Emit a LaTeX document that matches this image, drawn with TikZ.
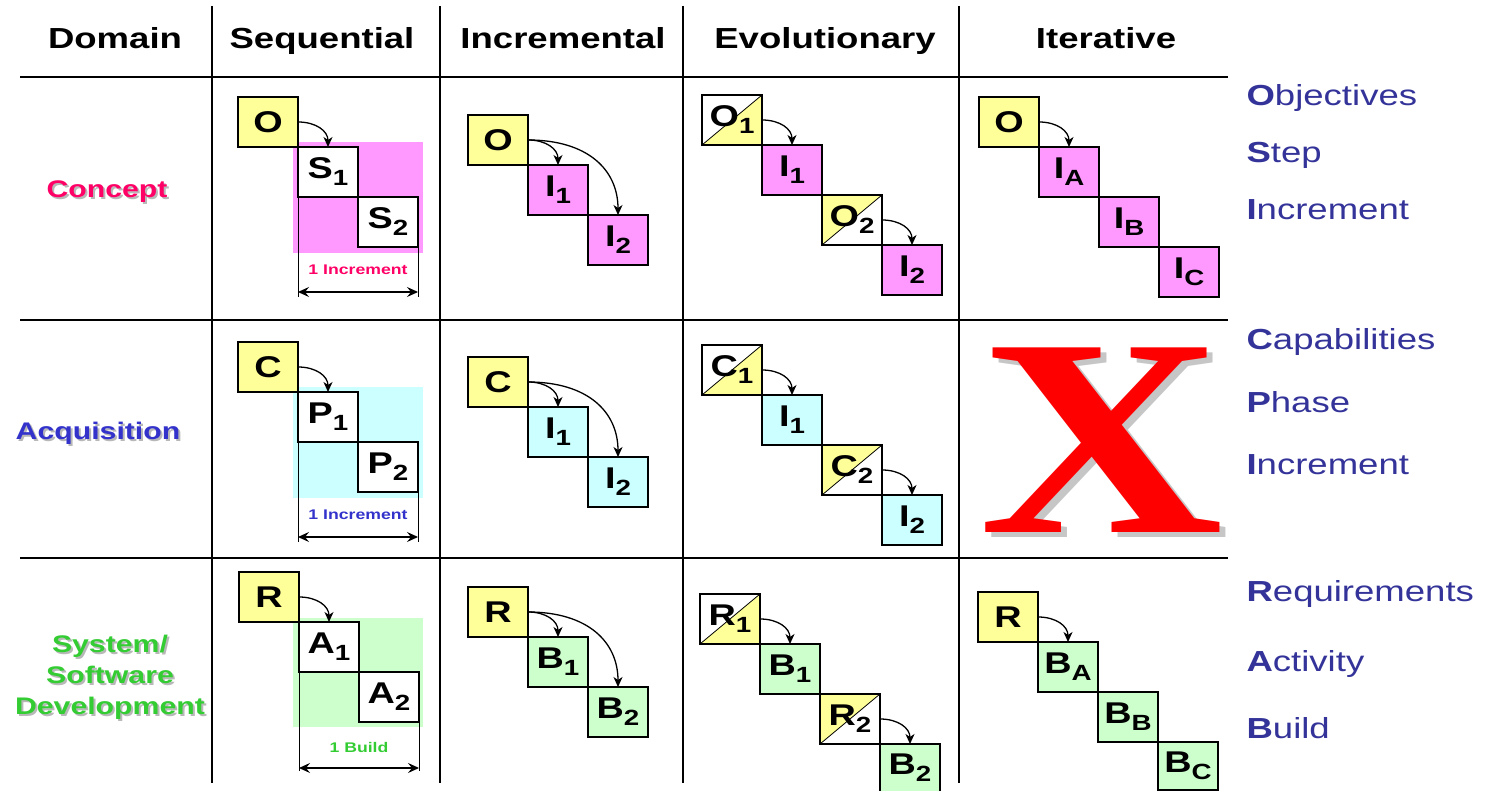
\documentclass[tikz,border=0pt]{standalone}
\usepackage{fontspec}
\setmainfont{Liberation Sans}[FakeStretch=1.26]
\newfontfamily\bigxfont{Liberation Serif}[FakeStretch=1.2]
\usetikzlibrary{arrows.meta}
\definecolor{boxyellow}{HTML}{FFFF99}
\definecolor{boxpink}{HTML}{FF99FF}
\definecolor{boxcyan}{HTML}{CCFFFF}
\definecolor{boxgreen}{HTML}{CCFFCC}
\definecolor{textblue}{HTML}{333399}
\definecolor{conceptred}{HTML}{FF0066}
\definecolor{acqblue}{HTML}{3333CC}
\definecolor{devgreen}{HTML}{33CC33}
\definecolor{shade}{HTML}{B8B8B8}
\newcommand{\subidx}[1]{\raisebox{-7pt}{\fontsize{22}{22}\selectfont #1}}

\begin{document}
\begin{tikzpicture}[x=1pt, y=1pt,
  grid/.style={line width=1.3pt},
  head/.style={font=\fontsize{29}{29}\selectfont\bfseries, anchor=base},
  side/.style={font=\fontsize{29}{29}\selectfont, text=textblue, anchor=base west},
  rowlabel/.style={font=\fontsize{24}{31}\selectfont\bfseries, align=center},
  wbox/.style={draw, fill=white, line width=1.2pt, minimum width=60pt, minimum height=50pt,
    inner sep=0pt, outer sep=0pt, font=\fontsize{30}{30}\selectfont\bfseries, anchor=north west},
  ybox/.style={wbox, fill=boxyellow, line width=2.2pt},
  pbox/.style={wbox, fill=boxpink},
  cbox/.style={wbox, fill=boxcyan},
  gbox/.style={wbox, fill=boxgreen},
  halfdown/.style={wbox, line width=2.2pt, path picture={
    \fill[boxyellow] (path picture bounding box.south west) -- (path picture bounding box.south east)
      -- (path picture bounding box.north east) -- cycle;
    \draw[line width=0.8pt] (path picture bounding box.south west) -- (path picture bounding box.north east);}},
  halfup/.style={wbox, line width=2.2pt, path picture={
    \fill[boxyellow] (path picture bounding box.south west) -- (path picture bounding box.north west)
      -- (path picture bounding box.north east) -- cycle;
    \draw[line width=0.8pt] (path picture bounding box.south west) -- (path picture bounding box.north east);}},
  flow/.style={-{Stealth[length=10pt,width=9pt,inset=3pt]}, line width=1.3pt},
  measure/.style={{Stealth[length=11pt,width=10pt,inset=4pt]}-{Stealth[length=11pt,width=10pt,inset=4pt]}, line width=1.1pt},
  note/.style={font=\fontsize{14}{14}\selectfont\bfseries}
]
\useasboundingbox (0,0) rectangle (1485,-791);

% table lines
\foreach \gy in {77,320,558}
  \draw[grid] (20,-\gy) -- (1228,-\gy);
\foreach \gx in {212,440,683,959}
  \draw[grid] (\gx,-6) -- (\gx,-783);

% headings
\node[head] (hdomain) at (115,-49) {Domain};
\node[head] (hseq) at (322,-49) {Sequential};
\node[head] (hinc) at (563,-49) {Incremental};
\node[head] (hevo) at (825,-49) {Evolutionary};
\node[head] (hiter) at (1106,-49) {Iterative};

% domains
\node[rowlabel, text=shade] at (109,-194) {Concept};
\node[rowlabel, text=conceptred] (dconcept) at (107,-192) {Concept};
\node[rowlabel, text=shade] at (100,-435) {Acquisition};
\node[rowlabel, text=acqblue] (dacq) at (98,-433) {Acquisition};
\node[rowlabel, text=shade] at (112,-679) {System/\\Software\\Development};
\node[rowlabel, text=devgreen] (ddev) at (110,-677) {System/\\Software\\Development};

% sequential
\fill[boxpink] (293,-142) rectangle (423,-253);
\node[ybox] (sO) at (238,-97) {O};
\node[wbox] (sS1) at (sO.south east) {S\subidx{1}};
\node[wbox] (sS2) at (sS1.south east) {S\subidx{2}};
\draw[flow] (sO.east) .. controls +(18,0) and +(0,16) .. (sS1.north);
\coordinate (sL1) at ([yshift=-100pt]sS1.south west);
\coordinate (sR1) at (sL1 -| sS2.south east);
\draw[line width=1pt] (sS1.south west) -- (sL1);
\draw[line width=1pt] (sS2.south east) -- (sR1);
\draw[measure] ([yshift=5pt]sL1) -- ([yshift=5pt]sR1);
\node[note, text=conceptred] (sT1) at (358,-270) {1 Increment};

\fill[boxcyan] (293,-387) rectangle (423,-498);
\node[ybox] (sC) at (238,-342) {C};
\node[wbox] (sP1) at (sC.south east) {P\subidx{1}};
\node[wbox] (sP2) at (sP1.south east) {P\subidx{2}};
\draw[flow] (sC.east) .. controls +(18,0) and +(0,16) .. (sP1.north);
\coordinate (sL2) at ([yshift=-100pt]sP1.south west);
\coordinate (sR2) at (sL2 -| sP2.south east);
\draw[line width=1pt] (sP1.south west) -- (sL2);
\draw[line width=1pt] (sP2.south east) -- (sR2);
\draw[measure] ([yshift=5pt]sL2) -- ([yshift=5pt]sR2);
\node[note, text=acqblue] (sT2) at (358,-515) {1 Increment};

\fill[boxgreen] (293,-618) rectangle (423,-727);
\node[ybox] (sR) at (239,-572) {R};
\node[wbox] (sA1) at (sR.south east) {A\subidx{1}};
\node[wbox] (sA2) at (sA1.south east) {A\subidx{2}};
\draw[flow] (sR.east) .. controls +(18,0) and +(0,16) .. (sA1.north);
\coordinate (sL3) at ([yshift=-99pt]sA1.south west);
\coordinate (sR3) at (sL3 -| sA2.south east);
\draw[line width=1pt] (sA1.south west) -- (sL3);
\draw[line width=1pt] (sA2.south east) -- (sR3);
\draw[measure] ([yshift=3pt]sL3) -- ([yshift=3pt]sR3);
\node[note, text=devgreen] (sT3) at (359,-747) {1 Build};

% incremental
\node[ybox] (iO) at (468,-115) {O};
\node[pbox] (iI1) at (iO.south east) {I\subidx{1}};
\node[pbox] (iI2) at (iI1.south east) {I\subidx{2}};
\draw[flow] (iO.east) .. controls +(18,0) and +(0,16) .. (iI1.north);
\draw[flow] (iO.east) .. controls +(60,0) and +(0,45) .. (iI2.north);

\node[ybox] (iC) at (468,-357) {C};
\node[cbox] (iI3) at (iC.south east) {I\subidx{1}};
\node[cbox] (iI4) at (iI3.south east) {I\subidx{2}};
\draw[flow] (iC.east) .. controls +(18,0) and +(0,16) .. (iI3.north);
\draw[flow] (iC.east) .. controls +(60,0) and +(0,45) .. (iI4.north);

\node[ybox] (iR) at (468,-587) {R};
\node[gbox] (iB1) at (iR.south east) {B\subidx{1}};
\node[gbox] (iB2) at (iB1.south east) {B\subidx{2}};
\draw[flow] (iR.east) .. controls +(18,0) and +(0,16) .. (iB1.north);
\draw[flow] (iR.east) .. controls +(60,0) and +(0,45) .. (iB2.north);

% evolutionary
\node[halfdown] (eO1) at (702,-95) {O\subidx{1}};
\node[pbox] (eI1) at (eO1.south east) {I\subidx{1}};
\node[halfup] (eO2) at (eI1.south east) {O\subidx{2}};
\node[pbox] (eI2) at (eO2.south east) {I\subidx{2}};
\draw[flow] (eO1.east) .. controls +(18,0) and +(0,16) .. (eI1.north);
\draw[flow] (eO2.east) .. controls +(18,0) and +(0,16) .. (eI2.north);

\node[halfdown] (eC1) at (702,-345) {C\subidx{1}};
\node[cbox] (eI3) at (eC1.south east) {I\subidx{1}};
\node[halfup] (eC2) at (eI3.south east) {C\subidx{2}};
\node[cbox] (eI4) at (eC2.south east) {I\subidx{2}};
\draw[flow] (eC1.east) .. controls +(18,0) and +(0,16) .. (eI3.north);
\draw[flow] (eC2.east) .. controls +(18,0) and +(0,16) .. (eI4.north);

\node[halfdown] (eR1) at (700,-594) {R\subidx{1}};
\node[gbox] (eB1) at (eR1.south east) {B\subidx{1}};
\node[halfup] (eR2) at (eB1.south east) {R\subidx{2}};
\node[gbox, minimum height=48pt] (eB2) at (eR2.south east) {B\subidx{2}};
\draw[flow] (eR1.east) .. controls +(18,0) and +(0,16) .. (eB1.north);
\draw[flow] (eR2.east) .. controls +(18,0) and +(0,16) .. (eB2.north);

% iterative
\node[ybox] (tO) at (979,-97) {O};
\node[pbox] (tIA) at (tO.south east) {I\subidx{A}};
\node[pbox] (tIB) at (tIA.south east) {I\subidx{B}};
\node[pbox] (tIC) at (tIB.south east) {I\subidx{C}};
\draw[flow] (tO.east) .. controls +(18,0) and +(0,16) .. (tIA.north);

\node[font=\bigxfont\bfseries\fontsize{282}{282}\selectfont, text=shade!80] at (1108,-445) {X};
\node[font=\bigxfont\bfseries\fontsize{282}{282}\selectfont, text=red] (tX) at (1102,-440) {X};

\node[ybox] (tR) at (978,-592) {R};
\node[gbox] (tBA) at (tR.south east) {B\subidx{A}};
\node[gbox] (tBB) at (tBA.south east) {B\subidx{B}};
\node[gbox, minimum height=48pt] (tBC) at (tBB.south east) {B\subidx{C}};
\draw[flow] (tR.east) .. controls +(18,0) and +(0,16) .. (tBA.north);

% key words
\node[side] (kO) at (1243,-106) {\textbf{O}bjectives};
\node[side] (kS) at (1243,-163) {\textbf{S}tep};
\node[side] (kI) at (1243,-220) {\textbf{I}ncrement};
\node[side] (kC) at (1243,-349) {\textbf{C}apabilities};
\node[side] (kP) at (1243,-412) {\textbf{P}hase};
\node[side] (kJ) at (1243,-474) {\textbf{I}ncrement};
\node[side] (kR) at (1243,-601) {\textbf{R}equirements};
\node[side] (kA) at (1243,-671) {\textbf{A}ctivity};
\node[side] (kB) at (1243,-738) {\textbf{B}uild};
\end{tikzpicture}
\end{document}
